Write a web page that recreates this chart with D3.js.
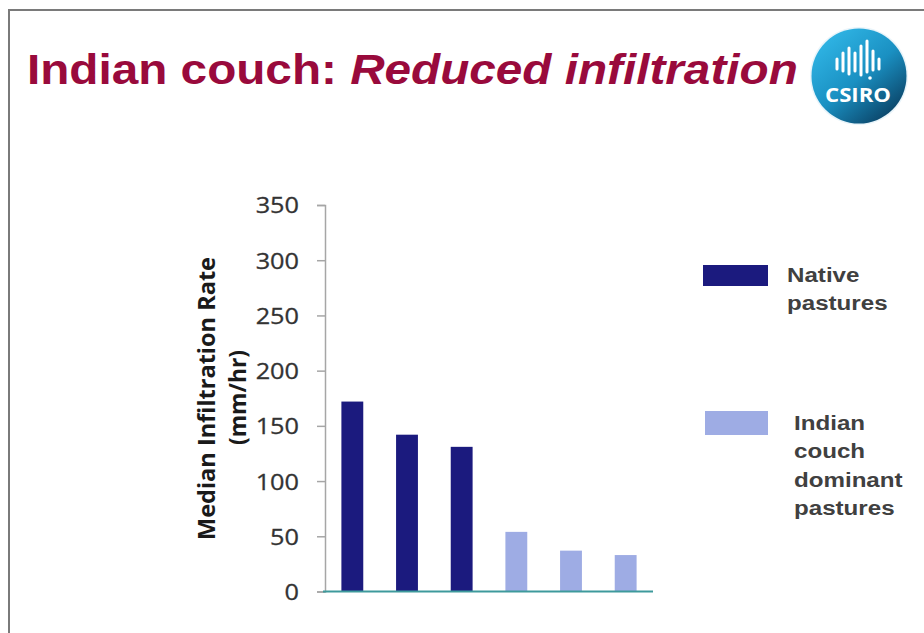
<!DOCTYPE html>
<meta charset="utf-8">
<style>
    body { margin: 0; background: #fff; }
    .tick text { font-family: "Open Sans", sans-serif; font-size: 22px; fill: #333; }
    .legendText { font-family: "Liberation Sans", Arial, sans-serif; font-size: 21px; font-weight: bold; fill: #404040; }
</style>
<svg width="924" height="633"></svg>
<script src="https://d3js.org/d3.v7.min.js"></script>
<script>
    // chart values
    var bars = ["n1", "n2", "n3", "c1", "c2", "c3"];
    var values = [172, 142, 131, 54, 37, 33];
    var groups = ["native", "native", "native", "couch", "couch", "couch"];
    var yTicks = [0, 50, 100, 150, 200, 250, 300, 350];
    var legendKeys = ["native", "couch"];
    var legendLabels = [["Native", "pastures"], ["Indian", "couch", "dominant", "pastures"]];
    // logo marks (decoration): x offset, top, bottom
    var logoX = [-22, -16, -10, -4, 2, 8, 14, 20];
    var logoTop = [-47, -53, -58, -53, -60, -65, -55, -47];
    var logoBot = [-37, -35, -32, -35, -31, -34, -36, -37];

    var svg = d3.select("svg"),
        width = +svg.attr("width"),
        height = +svg.attr("height");

    var stretch = 1.15; // the slide is a bit wider than it is tall

    // slide frame
    svg.append("line").attr("x1", 8).attr("x2", width).attr("y1", 10).attr("y2", 10)
        .attr("stroke", "#7a7a7a").attr("stroke-width", 2);
    svg.append("line").attr("x1", 9).attr("x2", 9).attr("y1", 10).attr("y2", height)
        .attr("stroke", "#7a7a7a").attr("stroke-width", 2);

    // title
    var title = svg.append("text")
        .attr("font-family", "Liberation Sans, Arial, sans-serif")
        .attr("font-size", 43)
        .attr("font-weight", "bold")
        .attr("fill", "#990a3c");
    title.append("tspan").text("Indian couch: ");
    title.append("tspan").attr("font-style", "italic").text("Reduced infiltration");
    var tw = title.node().getComputedTextLength();
    title.attr("transform", "translate(27,84) scale(" + (771 / tw) + ",1)");

    // logo
    var defs = svg.append("defs");
    var grad = defs.append("linearGradient").attr("id", "logoGrad")
        .attr("x1", "15%").attr("y1", "10%").attr("x2", "85%").attr("y2", "95%");
    grad.append("stop").attr("offset", "0%").attr("stop-color", "#2fb4e4");
    grad.append("stop").attr("offset", "50%").attr("stop-color", "#1a90c2");
    grad.append("stop").attr("offset", "100%").attr("stop-color", "#0a3f62");
    var logo = svg.append("g").attr("transform", "translate(859,76)");
    logo.append("circle").attr("r", 49).attr("fill", "#e8f4fa");
    logo.append("circle").attr("r", 47.5).attr("fill", "url(#logoGrad)");
    logo.selectAll("line.mark")
        .data(logoX).enter().append("line")
        .attr("class", "mark")
        .attr("x1", function (d) { return d; })
        .attr("x2", function (d) { return d; })
        .attr("y1", function (d, i) { return logoTop[i] + 30; })
        .attr("y2", function (d, i) { return logoBot[i] + 30; })
        .attr("stroke", "#fff").attr("stroke-width", 3).attr("stroke-linecap", "round");
    logo.append("circle").attr("cx", 11).attr("cy", 2).attr("r", 1.8).attr("fill", "#fff");
    logo.append("text").attr("x", -1).attr("y", 26)
        .attr("text-anchor", "middle")
        .attr("font-family", "Open Sans, sans-serif").attr("font-weight", "bold")
        .attr("font-size", 19).attr("fill", "#fff")
        .attr("textLength", 66).attr("lengthAdjust", "spacingAndGlyphs")
        .text("CSIRO");

    // scales
    var x = d3.scaleBand().domain(bars).range([325, 653]).paddingInner(0.6).paddingOuter(0.3);
    var y = d3.scaleLinear().domain([0, 350]).range([591.5, 205]);
    var color = d3.scaleOrdinal().domain(legendKeys).range(["#1b1a7e", "#9eace4"]);

    // y axis
    var yAxis = svg.append("g")
        .attr("transform", "translate(325,0)")
        .call(d3.axisLeft(y).tickValues(yTicks).tickSize(8).tickPadding(0));
    yAxis.select(".domain").attr("stroke", "#a6a6a6").attr("stroke-width", 1.5);
    yAxis.selectAll(".tick line").attr("stroke", "#a6a6a6").attr("stroke-width", 1.5);
    yAxis.selectAll(".tick text")
        .attr("x", -26 / stretch)
        .attr("dy", "0.36em")
        .attr("stroke", "#333").attr("stroke-width", 0.3)
        .attr("transform", "scale(" + stretch + ",1)");

    // bars
    svg.append("g").selectAll("rect")
        .data(values).enter().append("rect")
        .attr("x", function (d, i) { return x(bars[i]); })
        .attr("width", x.bandwidth())
        .attr("y", function (d) { return y(d); })
        .attr("height", function (d) { return y(0) - y(d); })
        .attr("fill", function (d, i) { return color(groups[i]); });

    // baseline
    svg.append("line").attr("x1", 323).attr("x2", 653).attr("y1", y(0)).attr("y2", y(0))
        .attr("stroke", "#3e9a9c").attr("stroke-width", 2);

    // y title
    var yTitle = [["Median Infiltration Rate", 215, 398.5, 283], ["(mm/hr)", 246, 397.5, 95]];
    svg.selectAll("text.ytitle")
        .data(yTitle).enter().append("text")
        .attr("class", "ytitle")
        .attr("transform", function (d) { return "translate(" + d[1] + "," + d[2] + ") rotate(-90)"; })
        .attr("text-anchor", "middle")
        .attr("font-family", "Open Sans, sans-serif")
        .attr("font-weight", "bold")
        .attr("font-size", 23)
        .attr("fill", "#1a1a1a")
        .attr("textLength", function (d) { return d[3]; })
        .attr("lengthAdjust", "spacingAndGlyphs")
        .text(function (d) { return d[0]; });

    // legend
    var legendPos = [{rx: 703, ry: 265, rw: 65, rh: 21, tx: 787, ty: 281.5},
                     {rx: 705, ry: 411, rw: 63, rh: 24, tx: 794, ty: 430}];
    legendKeys.forEach(function (k, i) {
        var p = legendPos[i];
        svg.append("rect").attr("x", p.rx).attr("y", p.ry).attr("width", p.rw).attr("height", p.rh)
            .attr("fill", color(k));
        var t = svg.append("text").attr("class", "legendText")
            .attr("transform", "translate(" + p.tx + "," + p.ty + ") scale(" + stretch + ",1)");
        legendLabels[i].forEach(function (line, j) {
            t.append("tspan").attr("x", 0).attr("y", j * 28.5).text(line);
        });
    });
</script>
